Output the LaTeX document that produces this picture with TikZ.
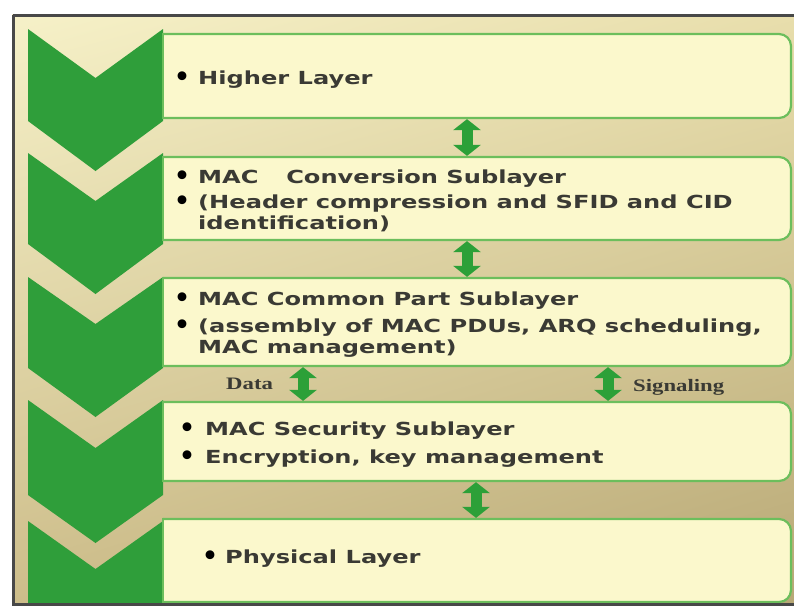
\documentclass[tikz,border=0pt]{standalone}
\usepackage{fontspec}
\usepackage{graphicx}
\usetikzlibrary{arrows.meta,shadings}
\newfontfamily\dvs{DejaVu Sans}
\newfontfamily\lserif{Liberation Serif}
\definecolor{chevgreen}{RGB}{47,158,58}
\definecolor{arrgreen}{RGB}{44,160,56}
\definecolor{boxline}{RGB}{108,190,92}
\definecolor{boxfill}{RGB}{251,248,204}
\definecolor{txtgray}{RGB}{58,58,52}
\definecolor{framegray}{RGB}{72,72,72}
\definecolor{bgUL}{RGB}{246,241,200}
\definecolor{bgUR}{RGB}{232,222,172}
\definecolor{bgLL}{RGB}{205,189,138}
\definecolor{bgLR}{RGB}{184,168,118}
\newcommand{\sx}[1]{\scalebox{1.34}[1]{#1}}
\begin{document}
\begin{tikzpicture}[x=1pt,y=-1pt,
  layerbox/.style={rectangle, rounded corners=12pt, draw=boxline, fill=boxfill, line width=2.2pt, minimum width=651pt, inner sep=0pt},
  chev/.style={fill=chevgreen, draw=none},
  dblarrow/.style={draw=arrgreen, line width=11pt, {Triangle[width=27pt,length=11pt]}-{Triangle[width=27pt,length=11pt]}},
  txt/.style={anchor=base west, inner sep=0pt, text=txtgray, font=\dvs\bfseries\fontsize{18}{21}\selectfont},
  bul/.style={anchor=base, inner sep=0pt, text=black, yshift=-1.6pt, font=\dvs\bfseries\fontsize{25}{28}\selectfont},
  lab/.style={anchor=base west, inner sep=0pt, text=txtgray, font=\lserif\bfseries\fontsize{17.5}{20}\selectfont}
]
\useasboundingbox (0,0) rectangle (794,606);
\fill[white] (0,0) rectangle (794,606);
\shade[upper left=bgUL, upper right=bgUR, lower left=bgLL, lower right=bgLR] (12,14) rectangle (794,604);

% chevrons
\fill[chev] (28,29) -- (95.5,78) -- (163,29) -- (163,121) -- (95.5,171) -- (28,121) -- cycle;
\fill[chev] (28,153) -- (95.5,201) -- (163,153) -- (163,244) -- (95.5,294) -- (28,244) -- cycle;
\fill[chev] (28,277) -- (95.5,324) -- (163,277) -- (163,368) -- (95.5,417) -- (28,368) -- cycle;
\fill[chev] (28,400) -- (95.5,448) -- (163,400) -- (163,495) -- (95.5,543) -- (28,495) -- cycle;
\fill[chev] (28,521) -- (95.5,569) -- (163,521) -- (163,604) -- (28,604) -- cycle;

% layer boxes
\begin{scope}
\clip (162.5,0) rectangle (794,606);
\node[layerbox, minimum height=84pt] (b1) at (465.5,76) {};
\node[layerbox, minimum height=83pt] (b2) at (465.5,198.5) {};
\node[layerbox, minimum height=88pt] (b3) at (465.5,322) {};
\node[layerbox, minimum height=79pt] (b4) at (465.5,441.5) {};
\node[layerbox, minimum height=83pt] (b5) at (465.5,560.5) {};
\end{scope}
\coordinate (lx) at (163,0);
\foreach \b in {b1,b2,b3,b4,b5}
  \draw[boxline, line width=2.2pt] (\b.north -| lx) -- (\b.south -| lx);

% frame
\draw[framegray, line width=3pt] (13,15) -- (798,15);
\draw[framegray, line width=3pt] (13,15) -- (13,604.5) -- (798,604.5);

% arrows
\coordinate (ax1) at (467,0);
\coordinate (ax2) at (303,0);
\coordinate (ax3) at (608,0);
\coordinate (ax4) at (476,0);
\draw[dblarrow] (b1.south -| ax1) -- (b2.north -| ax1);
\draw[dblarrow] (b2.south -| ax1) -- (b3.north -| ax1);
\draw[dblarrow] (b3.south -| ax2) -- (b4.north -| ax2);
\draw[dblarrow] (b3.south -| ax3) -- (b4.north -| ax3);
\draw[dblarrow] (b4.south -| ax4) -- (b5.north -| ax4);

% labels
\node[lab] (dl) at (226,389) {\scalebox{1.3}[1]{Data}};
\node[lab] (sl) at (633,391) {\scalebox{1.3}[1]{Signaling}};

% texts
\node[bul] (u1) at (182,84) {•};
\node[txt] (t1) at (198,84) {\sx{Higher Layer}};

\node[bul] (u2a) at (182,183) {•};
\node[txt] (t2a) at (198,183) {\sx{MAC\hspace{1.15em}Conversion Sublayer}};
\node[bul] (u2b) at (182,208) {•};
\node[txt] (t2b) at (198,208) {\sx{(Header compression and SFID and CID}};
\node[txt] (t2c) at (198,229) {\sx{identification)}};

\node[bul] (u3a) at (182,305) {•};
\node[txt] (t3a) at (198,305) {\sx{MAC Common Part Sublayer}};
\node[bul] (u3b) at (182,332) {•};
\node[txt] (t3b) at (198,332) {\sx{(assembly of MAC PDUs, ARQ scheduling,}};
\node[txt] (t3c) at (198,353) {\sx{MAC management)}};

\node[bul] (u4a) at (187,435) {•};
\node[txt] (t4a) at (205,435) {\sx{MAC Security Sublayer}};
\node[bul] (u4b) at (187,463) {•};
\node[txt] (t4b) at (205,463) {\sx{Encryption, key management}};

\node[bul] (u5) at (210,563) {•};
\node[txt] (t5) at (225,563) {\sx{Physical Layer}};
\end{tikzpicture}
\end{document}
